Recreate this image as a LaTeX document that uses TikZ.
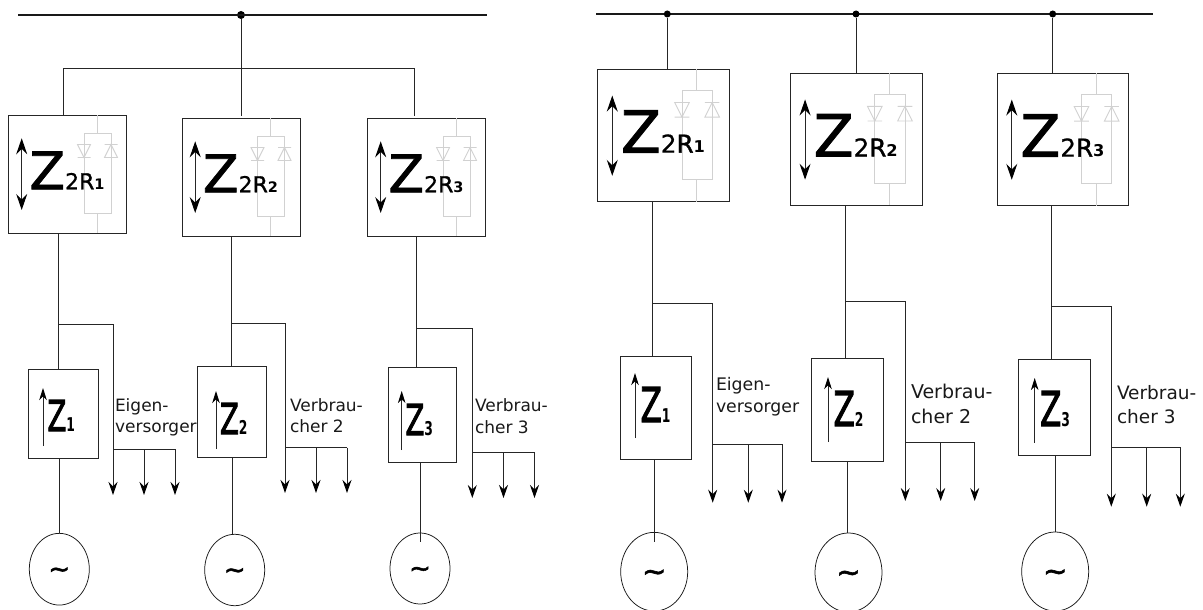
\documentclass[tikz,border=0pt]{standalone}
\usepackage{fontspec}
\usepackage{graphicx}
\usetikzlibrary{arrows.meta,shapes.geometric}
\setmainfont{DejaVu Sans}
\newfontfamily\zfont[FakeBold=1.5]{DejaVu Sans}
\newfontfamily\zsfont[FakeBold=0.7]{DejaVu Sans}
\newfontfamily\zrfont[FakeBold=1.5]{DejaVu Sans}
\newfontfamily\zcfont[FakeBold=2.5]{DejaVu Sans}
\newfontfamily\tfont[FakeBold=2]{DejaVu Sans}
\newcommand\fs[1]{\fontsize{#1}{#1}\selectfont}
\definecolor{wire}{gray}{0.15}
\definecolor{diodegray}{gray}{0.82}
\tikzset{
  wireline/.style={draw=wire,line width=1pt},
  busline/.style={draw=black!90,line cap=butt},
  busdot/.style={circle,fill=black,inner sep=0,minimum size=8pt},
  rbox/.style={draw=wire,line width=1pt,inner sep=0,outer sep=0},
  gen/.style={ellipse,draw=black!90,line width=0.75pt,inner sep=0,outer sep=0},
  load/.style={wireline,-{Stealth[length=13pt,width=9pt,inset=4.5pt,color=black]}},
  bigarrow/.style={draw=wire,line width=1pt,{Stealth[length=16pt,width=11pt,inset=5.5pt,color=black]}-{Stealth[length=16pt,width=11pt,inset=5.5pt,color=black]}},
  smallarrow/.style={draw=wire,line width=0.9pt,-{Stealth[length=12pt,width=7.5pt,inset=3.5pt,color=black]}},
  diodeline/.style={draw=diodegray,line width=0.9pt},
  lbl/.style={inner sep=0,outer sep=0,anchor=north west,align=left,text=black!90},
  ztext/.style={inner sep=0,outer sep=0,anchor=base west}
}
% big regulator box: prefix, left, top, side, scale, subscript digit
\newcommand\bigbox[6]{%
  \node[rbox,minimum width=#4pt,minimum height=#4pt,anchor=north west] (#1B) at (#2,#3) {};
  \begin{scope}[shift={(#2,#3)},scale=#5,transform shape]
    \draw[diodeline] (88.8,0) -- (88.8,18.5) (75.5,18.5) rectangle (102.5,98.5) (88.8,98.5) -- (88.8,118);
    \draw[diodeline] (69,29.5) -- (82,29.5) -- (75.5,42.5) -- cycle (69,42.5) -- (82,42.5);
    \draw[diodeline] (96,42.5) -- (109,42.5) -- (102.5,29.5) -- cycle (96,29.5) -- (109,29.5);
    \coordinate (#1U) at (13.2,23.3);
    \coordinate (#1D) at (13.2,95);
    \node[ztext] (#1T) at (21,74.3) {{\zfont\fs{52}Z}{\zsfont\fs{22}2}{\zrfont\fs{22}R}{\bfseries\fs{14.5}#6}};
  \end{scope}
  \draw[bigarrow] (#1D) -- (#1U);
}
% small box label: prefix, arrow x, arrow top, arrow bottom, Z left, baseline, size, subscript digit
\newcommand\smalllabel[8]{%
  \coordinate (#1u) at (#2,#3);
  \coordinate (#1d) at (#2,#4);
  \draw[smallarrow] (#1d) -- (#1u);
  \node[ztext] (#1t) at (#5,#6) {\scalebox{0.65}[1]{{\zcfont\fs{#7}Z}{\bfseries\fs{19}#8}}};
}
% trunk, branch and three loads: prefix, trunk x, branch y, load x, rail y, x2, x3, tip y
\newcommand\loads[8]{%
  \coordinate (#1j) at (#2,#3);
  \coordinate (#1k) at (#4,#3);
  \coordinate (#1h) at (#4,#5);
  \coordinate (#1m) at (#6,#5);
  \coordinate (#1n) at (#7,#5);
  \coordinate (#1a) at (#4,#8);
  \coordinate (#1b) at (#6,#8);
  \coordinate (#1c) at (#7,#8);
  \draw[wireline] (#1B.south -| #1j) -- (#1S.north -| #1j);
  \draw[wireline] (#1j) -- (#1k) -- (#1h) -- (#1n);
  \draw[load] (#1h) -- (#1a);
  \draw[load] (#1m) -- (#1b);
  \draw[load] (#1n) -- (#1c);
}
\newcommand\tld[1]{\raisebox{-#1pt*\real{0.32}}{}\tfont\fs{#1}\raisebox{-0.33em}[0pt][0pt]{\textasciitilde}}
\renewcommand\tld[1]{\tfont\fs{#1}\raisebox{-0.33em}[0pt][0pt]{\textasciitilde}}
\begin{document}
\begin{tikzpicture}[x=1pt,y=-1pt]
\useasboundingbox (0,0) rectangle (1203,610);
% ---- left network
\coordinate (lbusa) at (18,15);
\coordinate (lbusb) at (487,15);
\node[busdot] (ldot) at (241,15) {};
\draw[busline,line width=2pt] (lbusa) -- (lbusb);
\bigbox{a}{8.5}{115}{118}{1}{1}
\bigbox{b}{182}{118}{118}{1}{2}
\bigbox{c}{367.5}{118}{118}{1}{3}
\coordinate (lh1) at (63,69);
\coordinate (lh3) at (414,69);
\coordinate (lend3) at (414,116);
\coordinate (lend) at (241,116);
\draw[wireline] (ldot) -- (lend);
\draw[wireline] (aB.north -| lh1) -- (lh1) -- (lh3) -- (lend3);
% small boxes
\node[rbox,minimum width=69.5pt,minimum height=89pt] (aS) at (63.25,413.5) {};
\node[rbox,minimum width=69.5pt,minimum height=91pt] (bS) at (231.75,411.5) {};
\node[rbox,minimum width=68pt,minimum height=94.5pt] (cS) at (422.7,414.75) {};
\smalllabel{a}{43}{388}{446}{47.5}{431}{42.5}{1}
\smalllabel{b}{216}{391}{449}{220}{434}{42.5}{2}
\smalllabel{c}{401.7}{391}{450}{405.5}{435}{42.5}{3}
\loads{a}{58}{324.5}{113}{449}{144}{175}{495}
\loads{b}{231}{323.3}{285}{447.5}{316}{347}{493}
\loads{c}{416.7}{328}{472.3}{452.5}{503.5}{534.5}{498}
% generators
\node[gen,minimum width=60pt,minimum height=71.7pt] (aG) at (59.3,569.2) {\tld{26}};
\node[gen,minimum width=60pt,minimum height=71.4pt] (bG) at (234.7,570) {\tld{26}};
\node[gen,minimum width=60pt,minimum height=71pt] (cG) at (420,568.5) {\tld{26}};
\coordinate (ag) at (59.5,533.3);
\coordinate (bg) at (232.5,534.3);
\coordinate (cg) at (420,541.5);
\draw[wireline] (aS.south -| ag) -- (ag);
\draw[wireline] (bS.south -| bg) -- (bg);
\draw[wireline] (cS.south -| cg) -- (cg);
\node[lbl,font=\fs{17}] (al) at (115,398.5) {Eigen-\\[4pt]versorger};
\node[lbl,font=\fs{17}] (bl) at (290,398.5) {Verbrau-\\[4pt]cher 2};
\node[lbl,font=\fs{17}] (cl) at (475,399) {Verbrau-\\[5pt]cher 3};
% ---- right network
\coordinate (rbusa) at (596,14);
\coordinate (rbusb) at (1152.5,14);
\draw[busline,line width=1.4pt] (rbusa) -- (rbusb);
\node[busdot,minimum size=7pt] (d1) at (667.3,14) {};
\node[busdot,minimum size=7pt] (d2) at (856,14) {};
\node[busdot,minimum size=7pt] (d3) at (1052.7,14) {};
\bigbox{d}{597.5}{69.5}{131.5}{1.119}{1}
\bigbox{e}{790.3}{73.4}{131.7}{1.119}{2}
\bigbox{f}{997}{73.5}{131.7}{1.119}{3}
\draw[wireline] (d1) -- (d1 |- dB.north);
\draw[wireline] (d2) -- (d2 |- eB.north);
\draw[wireline] (d3) -- (d3 |- fB.north);
\node[rbox,minimum width=70.5pt,minimum height=103.5pt] (dS) at (655.75,407.75) {};
\node[rbox,minimum width=72pt,minimum height=103pt] (eS) at (847.5,410) {};
\node[rbox,minimum width=72pt,minimum height=96pt] (fS) at (1054,407) {};
\smalllabel{d}{635}{373}{438}{640.5}{422}{48}{1}
\smalllabel{e}{828}{377}{442}{833.5}{426}{48}{2}
\smalllabel{f}{1034.7}{378}{442.7}{1040}{426}{48}{3}
\loads{d}{652.3}{303.3}{712.7}{444}{748.3}{782}{502.7}
\loads{e}{845.3}{301.7}{905.3}{442}{940.7}{974.7}{501}
\loads{f}{1051.7}{306.7}{1111.3}{447}{1146.7}{1180.3}{506.7}
\node[gen,minimum width=67pt,minimum height=78.7pt] (dG) at (654.2,571.7) {\tld{29}};
\node[gen,minimum width=67pt,minimum height=79pt] (eG) at (848.5,572.5) {\tld{29}};
\node[gen,minimum width=67pt,minimum height=79pt] (fG) at (1055.2,571.5) {\tld{29}};
\coordinate (dg) at (654.7,542);
\coordinate (eg) at (847.7,533);
\coordinate (fg) at (1055.3,532);
\draw[wireline] (dS.south -| dg) -- (dg);
\draw[wireline] (eS.south -| eg) -- (eg);
\draw[wireline] (fS.south -| fg) -- (fg);
\node[lbl,font=\fs{17.3}] (dl) at (716,377) {Eigen-\\[5pt]versorger};
\node[lbl,font=\fs{19}] (el) at (911,384) {Verbrau-\\[6pt]cher 2};
\node[lbl,font=\fs{18.5}] (fl) at (1117,385) {Verbrau-\\[6pt]cher 3};
\end{tikzpicture}
\end{document}
